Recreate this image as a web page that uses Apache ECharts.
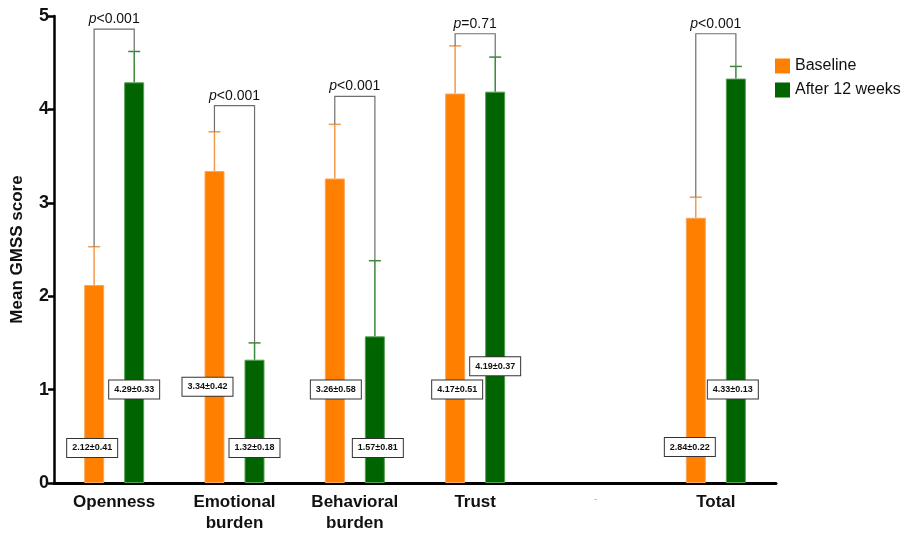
<!DOCTYPE html>
<html>
<head>
<meta charset="utf-8">
<script src="https://cdn.jsdelivr.net/npm/echarts@6/dist/echarts.min.js"></script>
<style>
  html, body { margin: 0; padding: 0; background: #fff; }
  #chart { width: 921px; height: 533px; }
</style>
</head>
<body>
<div id="chart"></div>
<script>
// data
var categories = ['Openness', 'Emotional\nburden', 'Behavioral\nburden', 'Trust', '-', 'Total'];
var baselineMean = [2.12, 3.34, 3.26, 4.17, '-', 2.84];
var baselineSD   = [0.41, 0.42, 0.58, 0.51, '-', 0.22];
var afterMean    = [4.29, 1.32, 1.57, 4.19, '-', 4.33];
var afterSD      = [0.33, 0.18, 0.81, 0.37, '-', 0.13];
var pValues      = ['<0.001', '<0.001', '<0.001', '=0.71', '', '<0.001'];
var yTicks = [0, 1, 2, 3, 4, 5];

var ORANGE = '#FF7F00', GREEN = '#006400';

// where the brackets top out and where the value boxes sit (layout, not data)
var bracketTop = [4.86, 4.04, 4.14, 4.81, null, 4.81];
var boxY  = [[0.375, 1.0], [1.03, 0.375], [1.0, 0.375], [1.0, 1.25], null, [0.385, 1.0]];
var boxDx = [[-22, 20], [-27, 20], [-19, 23], [-18, 20], null, [-26, 17]];

var errData = [], boxData = [], brData = [];
for (var i = 0; i < categories.length; i++) {
    if (baselineMean[i] === '-') continue;
    errData.push([i, baselineMean[i], baselineSD[i], 0]);
    errData.push([i, afterMean[i], afterSD[i], 1]);
    boxData.push([i, boxY[i][0], 0, baselineMean[i].toFixed(2) + '±' + baselineSD[i].toFixed(2)]);
    boxData.push([i, boxY[i][1], 1, afterMean[i].toFixed(2) + '±' + afterSD[i].toFixed(2)]);
    brData.push([i, bracketTop[i], baselineMean[i] + baselineSD[i], afterMean[i] + afterSD[i], pValues[i]]);
}

var myChart = echarts.init(document.getElementById('chart'));

var option = {
    animation: false,
    textStyle: { fontFamily: 'Liberation Sans, Arial, sans-serif' },
    grid: { left: 54, top: 16, width: 722, height: 467, outerBoundsMode: 'none', containLabel: false },
    legend: {
        data: ['Baseline', 'After 12 weeks'],
        orient: 'vertical',
        left: 775,
        top: 58,
        padding: 0,
        icon: 'rect',
        itemWidth: 15,
        itemHeight: 15,
        itemGap: 8,
        itemStyle: { borderWidth: 0 },
        textStyle: { fontSize: 16, color: '#111' }
    },
    xAxis: {
        type: 'category',
        data: categories,
        axisLine: { lineStyle: { color: '#000', width: 3 } },
        axisTick: {
            alignWithLabel: true,
            length: 6,
            lineStyle: { color: '#000', width: 2.5 },
            interval: function (idx, val) { return val !== '-'; }
        },
        axisLabel: {
            fontSize: 17,
            fontWeight: 'bold',
            color: '#111',
            lineHeight: 21,
            margin: 9,
            formatter: function (v) { return v === '-' ? '{s|-}' : v; },
            rich: { s: { fontSize: 9, color: '#999', fontWeight: 'normal', padding: [0, 0, 6, 0] } }
        }
    },
    yAxis: {
        type: 'value',
        min: 0,
        max: 5,
        interval: 1,
        name: 'Mean GMSS score',
        nameLocation: 'middle',
        nameGap: 28,
        nameTextStyle: { fontSize: 17, fontWeight: 'bold', color: '#111' },
        axisLine: { show: true, lineStyle: { color: '#000', width: 2.5 } },
        axisTick: { show: true, length: 6, lineStyle: { color: '#000', width: 2.5 } },
        axisLabel: {
            fontSize: 18, fontWeight: 'bold', color: '#111', margin: 5,
            formatter: function (v) { return yTicks.indexOf(v) >= 0 ? String(v) : ''; }
        },
        splitLine: { show: false }
    },
    series: [
        {
            name: 'Baseline',
            type: 'bar',
            barWidth: 20,
            barGap: '100%',
            itemStyle: { color: ORANGE, borderColor: '#F9A65A', borderWidth: 1 },
            data: baselineMean
        },
        {
            name: 'After 12 weeks',
            type: 'bar',
            barWidth: 20,
            itemStyle: { color: GREEN, borderColor: '#55A055', borderWidth: 1 },
            data: afterMean
        },
        {   // error bars (mean + SD)
            type: 'custom',
            z: 3,
            encode: { x: 0, y: 1 },
            data: errData,
            renderItem: function (params, api) {
                var band = api.size([1, 0])[0];
                var dx = (api.value(3) === 0 ? -1 : 1) * band / 6;
                var p0 = api.coord([api.value(0), api.value(1)]);
                var p1 = api.coord([api.value(0), api.value(1) + api.value(2)]);
                var x = p0[0] + dx;
                var col = api.value(3) === 0 ? '#F39A4E' : '#3A883A';
                return {
                    type: 'group',
                    children: [
                        { type: 'line', shape: { x1: x, y1: p0[1], x2: x, y2: p1[1] }, style: { stroke: col, lineWidth: 1.5 } },
                        { type: 'line', shape: { x1: x - 6, y1: p1[1], x2: x + 6, y2: p1[1] }, style: { stroke: col, lineWidth: 1.5 } }
                    ]
                };
            }
        },
        {   // significance brackets
            type: 'custom',
            z: 3,
            encode: { x: 0, y: 1 },
            data: brData,
            renderItem: function (params, api) {
                var band = api.size([1, 0])[0];
                var c = api.value(0);
                var top = api.coord([c, api.value(1)]);
                var l = api.coord([c, api.value(2)]);
                var r = api.coord([c, api.value(3)]);
                var xl = top[0] - band / 6, xr = top[0] + band / 6;
                var p = brData[params.dataIndex][4];
                return {
                    type: 'group',
                    children: [
                        {
                            type: 'polyline',
                            shape: { points: [[xl, l[1]], [xl, top[1]], [xr, top[1]], [xr, r[1]]] },
                            style: { stroke: '#6e6e6e', lineWidth: 1.2, fill: null }
                        },
                        {
                            type: 'text',
                            x: top[0],
                            y: top[1] - 3,
                            style: {
                                text: '{i|p}{n|' + p + '}',
                                align: 'center',
                                verticalAlign: 'bottom',
                                rich: {
                                    i: { fontSize: 14, fontStyle: 'italic', fill: '#111', fontFamily: 'Liberation Sans' },
                                    n: { fontSize: 14, fill: '#111', fontFamily: 'Liberation Sans' }
                                }
                            }
                        }
                    ]
                };
            }
        },
        {   // mean ± SD boxes
            type: 'custom',
            z: 4,
            encode: { x: 0, y: 1 },
            data: boxData,
            renderItem: function (params, api) {
                var c = api.value(0);
                var side = api.value(2);
                var pt = api.coord([c, api.value(1)]);
                var dx = boxDx[c][side];
                return {
                    type: 'text',
                    x: pt[0] + dx,
                    y: pt[1],
                    style: {
                        text: boxData[params.dataIndex][3],
                        align: 'center',
                        verticalAlign: 'middle',
                        fontSize: 9,
                        fontWeight: 'bold',
                        fontFamily: 'Liberation Sans',
                        fill: '#111',
                        backgroundColor: '#fff',
                        borderColor: '#333',
                        borderWidth: 1,
                        padding: [5, 5, 4, 5]
                    }
                };
            }
        }
    ]
};

myChart.setOption(option);
</script>
</body>
</html>
